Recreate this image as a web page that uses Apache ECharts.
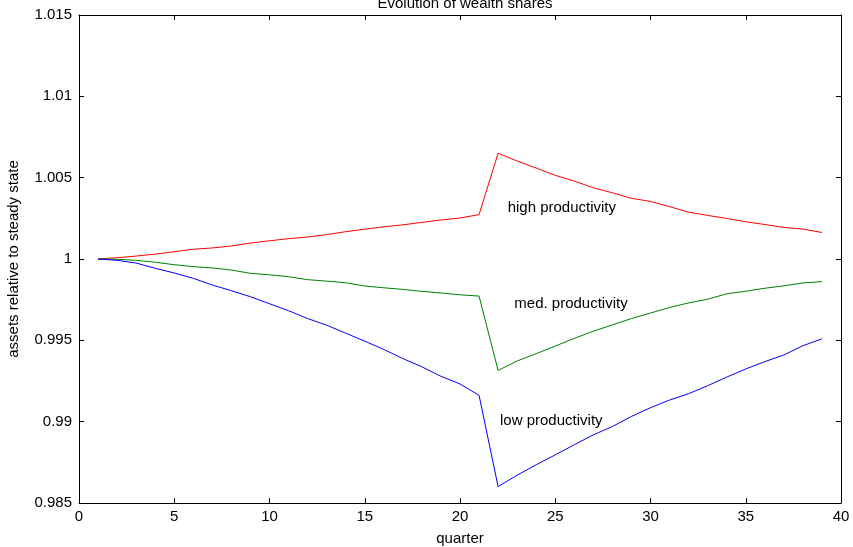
<!DOCTYPE html>
<html>
<head>
<meta charset="utf-8">
<script src="https://cdn.jsdelivr.net/npm/echarts@6/dist/echarts.min.js"></script>
<style>html,body{margin:0;padding:0;background:#fff;}#c{width:853px;height:547px;}</style>
</head>
<body>
<div id="c"></div>
<script>
var quarters = [1,2,3,4,5,6,7,8,9,10,11,12,13,14,15,16,17,18,19,20,21,22,23,24,25,26,27,28,29,30,31,32,33,34,35,36,37,38,39];
var highProd = [1.00000,1.00008,1.00018,1.00030,1.00045,1.00060,1.00068,1.00080,1.00098,1.00112,1.00125,1.00135,1.00150,1.00168,1.00183,1.00198,1.00210,1.00225,1.00240,1.00252,1.00273,1.00650,1.00602,1.00559,1.00514,1.00479,1.00438,1.00407,1.00373,1.00354,1.00322,1.00288,1.00268,1.00249,1.00229,1.00212,1.00194,1.00184,1.00163];
var medProd = [1.00000,0.99998,0.99992,0.99980,0.99965,0.99953,0.99945,0.99932,0.99912,0.99903,0.99891,0.99873,0.99864,0.99854,0.99834,0.99823,0.99813,0.99801,0.99791,0.99780,0.99772,0.99315,0.99373,0.99418,0.99465,0.99512,0.99556,0.99595,0.99634,0.99668,0.99702,0.99730,0.99753,0.99786,0.99802,0.99820,0.99835,0.99853,0.99861];
var lowProd = [1.00000,0.99992,0.99975,0.99943,0.99914,0.99881,0.99840,0.99805,0.99768,0.99725,0.99682,0.99634,0.99593,0.99544,0.99495,0.99444,0.99388,0.99337,0.99279,0.99232,0.99162,0.98601,0.98671,0.98735,0.98796,0.98858,0.98919,0.98970,0.99032,0.99086,0.99133,0.99172,0.99221,0.99274,0.99324,0.99369,0.99410,0.99467,0.99509];
var seriesNames = ['high productivity', 'med. productivity', 'low productivity'];
var labelCoords = [[22.5, 1.00317], [22.85, 0.99726], [22.1, 0.99006]];
var xTicks = {min: 0, max: 40, interval: 5};
var yTicks = {min: 0.985, max: 1.015, interval: 0.005};

var FONT = "'Liberation Sans', Arial, sans-serif";
function pairs(ys) { return quarters.map(function (q, i) { return [q, ys[i]]; }); }
function fmtY(v) { return String(parseFloat(v.toFixed(4))); }

var colors = ['#ff0000', '#008000', '#0000ff'];
var datasets = [highProd, medProd, lowProd];

var series = datasets.map(function (d, i) {
  return {
    type: 'line',
    name: seriesNames[i],
    data: pairs(d),
    symbol: 'none',
    lineStyle: {color: colors[i], width: 1},
    itemStyle: {color: colors[i]},
    silent: true,
    markPoint: {
      symbol: 'circle',
      symbolSize: 0,
      silent: true,
      data: [{coord: labelCoords[i]}],
      label: {
        show: true,
        position: 'right',
        distance: 0,
        formatter: seriesNames[i],
        color: '#000',
        fontSize: 15,
        fontFamily: FONT
      }
    }
  };
});

var axisLine = {show: true, onZero: false, lineStyle: {color: '#000', width: 1}};
var tick = {show: true, inside: true, length: 5, lineStyle: {color: '#000', width: 1}};

var chart = echarts.init(document.getElementById('c'));
chart.setOption({
  animation: false,
  backgroundColor: '#fff',
  title: {
    text: 'Evolution of wealth shares',
    left: 460,
    textAlign: 'center',
    top: -9,
    textStyle: {fontSize: 15, fontWeight: 'normal', color: '#000', fontFamily: FONT}
  },
  grid: {left: 79, right: 12, top: 15, bottom: 44, containLabel: false, outerBoundsMode: 'none'},
  xAxis: [
    {
      type: 'value', position: 'bottom',
      min: xTicks.min, max: xTicks.max, interval: xTicks.interval,
      name: 'quarter', nameLocation: 'middle', nameGap: 28,
      nameTextStyle: {fontSize: 15, color: '#000', fontFamily: FONT},
      axisLine: axisLine, axisTick: tick,
      axisLabel: {color: '#000', fontSize: 15, fontFamily: FONT, margin: 6},
      splitLine: {show: false}
    },
    {
      type: 'value', position: 'top',
      min: xTicks.min, max: xTicks.max, interval: xTicks.interval,
      axisLine: axisLine, axisTick: tick,
      axisLabel: {show: false}, splitLine: {show: false}
    }
  ],
  yAxis: [
    {
      type: 'value', position: 'left',
      min: yTicks.min, max: yTicks.max, interval: yTicks.interval,
      name: 'assets relative to steady state', nameLocation: 'middle', nameGap: 58,
      nameTextStyle: {fontSize: 15, color: '#000', fontFamily: FONT},
      axisLine: axisLine, axisTick: tick,
      axisLabel: {color: '#000', fontSize: 15, fontFamily: FONT, margin: 7, formatter: fmtY},
      splitLine: {show: false}
    },
    {
      type: 'value', position: 'right',
      min: yTicks.min, max: yTicks.max, interval: yTicks.interval,
      axisLine: axisLine, axisTick: tick,
      axisLabel: {show: false}, splitLine: {show: false}
    }
  ],
  series: series
});
</script>
</body>
</html>
